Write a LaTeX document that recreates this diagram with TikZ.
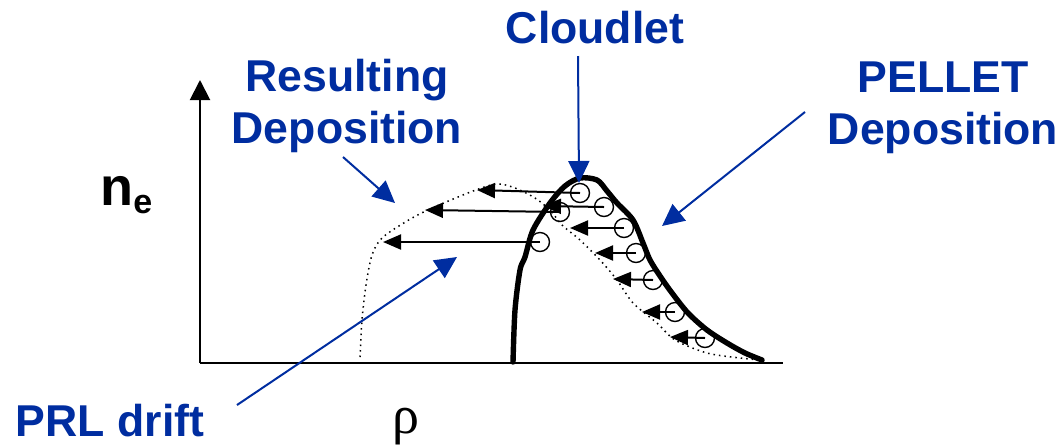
\documentclass[tikz,border=0pt]{standalone}
\usepackage{fontspec}
\setmainfont{Liberation Sans}
\newfontfamily\rhofont{Liberation Serif}
\usepackage{tikz}
\usetikzlibrary{arrows.meta}
\definecolor{labelblue}{RGB}{0,45,160}

\begin{document}
\begin{tikzpicture}
		[x=0.5pt, y=-0.5pt,
		axis line/.style={line width=1pt},
		pellet profile/.style={line width=2.7pt, line join=round, line cap=round},
		result profile/.style={line width=0.75pt, dotted},
		cloudlet/.style={draw, circle, line width=0.7pt, minimum size=9.5pt, inner sep=0pt},
		drift/.style={line width=1pt, -{Triangle[length=9pt, width=7.5pt]}},
		pointer/.style={labelblue, line width=1pt, -{Triangle[length=11pt, width=10.5pt]}},
		blue label/.style={labelblue, font=\fontsize{22.3}{26}\selectfont\bfseries, align=center, inner sep=0pt}]
		
		\useasboundingbox (0,0) rectangle (1064,446);
		
		% axes
		\coordinate (O) at (200,363);
		\coordinate (ytop) at (200,80);
		\coordinate (xend) at (783,363);
		\draw[axis line, -{Triangle[length=10pt, width=10pt]}] (O) -- (ytop);
		\draw[axis line] (O) -- (xend);
		\node[anchor=base west, inner sep=0pt, font=\fontsize{27}{27}\selectfont\bfseries] (ne) at (100,205)
			{n\raisebox{-4pt}{\fontsize{17}{17}\selectfont e}};
		\node[inner sep=0pt, font=\fontsize{27}{27}\selectfont\rhofont] (rho) at (406,427) {ρ};
		
		% resulting deposition (dotted)
		\draw[result profile] plot[smooth] coordinates {(360,357) (362,320) (366,285) (372,255) (382,238)
			(407,221) (430,209) (473,191) (497,184) (515,188) (535,198) (550,210) (562,225) (580,240)
			(600,260) (617,280) (633,303) (657,323) (675,340) (707,353) (740,358) (762,360)};
		
		% pellet deposition (thick)
		\draw[pellet profile] plot[smooth] coordinates {(513,362) (515,310) (520,270) (525,257) (533,230)
			(550,203) (565,186) (580,178) (597,180) (607,191) (617,203) (633,220) (643,243) (650,260)
			(660,276) (672,293) (688,313) (707,330) (727,343) (745,353) (762,360)};
		
		% cloudlets and their drift
		\foreach \i/\cx/\cy/\tx/\ty in {1/580/193/477/190, 2/560/212/425/210, 3/604/207/543/206,
				4/540/242/383/242, 5/624/228/570/228, 6/636/253/595/253, 7/653/280/613/279,
				8/675/312/642/312, 9/705/338/670/337}
			{
			\node[cloudlet] (c\i) at (\cx,\cy) {};
			\coordinate (t\i) at (\tx,\ty);
			\draw[drift] (c\i.center) -- (t\i);
			}
		
		% labels
		\node[blue label] (cloudlbl) at (595,28) {Cloudlet};
		\node[blue label] (reslbl) at (347,106) {Resulting\\Deposition};
		\node[blue label] (pellbl) at (943,108) {PELLET\\Deposition};
		\node[blue label] (prllbl) at (110,421) {PRL drift};
		
		\coordinate (cloudfrom) at (578,56);
		\coordinate (cloudto) at (579,183);
		\coordinate (resfrom) at (343,157);
		\coordinate (resto) at (395,203);
		\coordinate (pelfrom) at (805,112);
		\coordinate (pelto) at (662,226);
		\coordinate (prlfrom) at (237,405);
		\coordinate (prlto) at (457,257);
		\draw[pointer] (cloudfrom) -- (cloudto);
		\draw[pointer] (resfrom) -- (resto);
		\draw[pointer] (pelfrom) -- (pelto);
		\draw[pointer] (prlfrom) -- (prlto);
		
\end{tikzpicture}
\end{document}
